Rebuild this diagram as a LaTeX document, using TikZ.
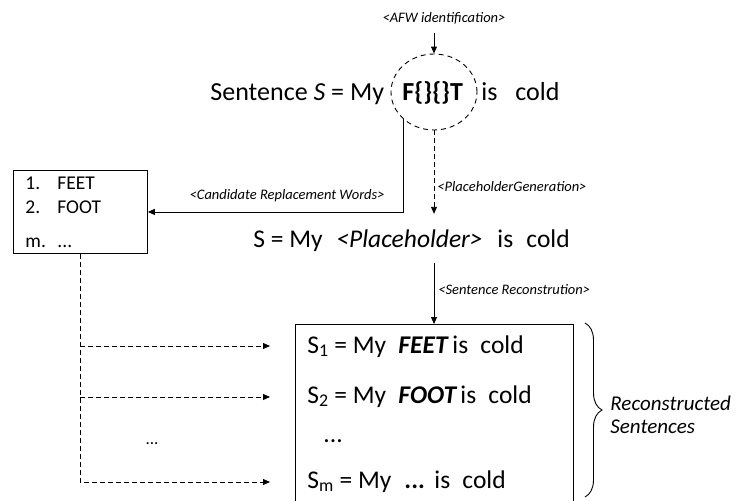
\documentclass[tikz,border=0pt]{standalone}
\usepackage{fontspec}
\setmainfont{Carlito}
\usetikzlibrary{arrows.meta,shapes.geometric,decorations.pathreplacing}
\begin{document}
\begin{tikzpicture}[x=1pt,y=-1pt, line width=0.9pt,
  txt/.style={inner sep=0pt, anchor=base west},
  bigf/.style={font=\fontsize{26}{30}\selectfont},
  phf/.style={font=\fontsize{25.5}{29}\selectfont},
  midf/.style={font=\fontsize{25.5}{29}\selectfont},
  lstf/.style={font=\fontsize{19.5}{23}\selectfont},
  lbl/.style={font=\fontsize{14.5}{17}\selectfont\itshape, inner sep=0pt},
  arr/.style={-{Triangle[length=7pt,width=6pt]}},
  dashline/.style={dash pattern=on 5pt off 3pt}
]
\useasboundingbox (0,0) rectangle (740,501);
\clip (0,0) rectangle (740,501);

% top label and circle
\node[lbl] (afwl) at (444,18) {<AFW identification>};
\coordinate (t0) at (434,33);
\node[ellipse, draw, dash pattern=on 5pt off 4pt, minimum width=86pt, minimum height=76pt, inner sep=0pt] (afw) at (434,92) {};
\draw[arr] (t0) -- (afw.north);

% main sentence
\node[txt,bigf] (s0) at (210,100) {Sentence \textit{S} = My};
\node[txt,bigf] (fw) at (402,100) {\textbf{F\{\}\{\}T}};
\node[txt,bigf] (is0) at (481,100) {is};
\node[txt,bigf] (cold0) at (515,100) {cold};

% candidate list
\node[draw, anchor=north west, minimum width=134pt, minimum height=83pt, inner sep=0pt] (list) at (13,170) {};
\node[txt,lstf] (n1) at (25,189) {1.};
\node[txt,lstf] (w1) at (57,189) {FEET};
\node[txt,lstf] (n2) at (25,213) {2.};
\node[txt,lstf] (w2) at (57,213) {FOOT};
\node[txt,lstf] (nm) at (25,247) {m.};
\node[txt,lstf] (wm) at (57,247) {...};

\draw[arr] (afw.222) |- (list.east);
\node[lbl, anchor=east] (cand) at (385,196) {<Candidate Replacement Words>};

% placeholder sentence
\node[txt,phf] (ph1) at (253,247) {S = My};
\node[txt,phf,inner ysep=15pt] (plh) at (336,247) {\textit{<Placeholder>}};
\node[txt,phf] (ph3) at (497,247) {is};
\node[txt,phf] (ph4) at (526,247) {cold};
\draw[arr,dashline] (afw.south) -- (afw.south |- plh.north);
\node[lbl, anchor=west] (phg) at (437,187) {<PlaceholderGeneration>};

% reconstruction box
\node[draw, anchor=north west, minimum width=278pt, minimum height=200pt, inner sep=0pt] (rbox) at (295,324) {};
\draw[arr] (afw.south |- plh.south) -- (afw.south |- rbox.north);
\node[lbl, anchor=west] (sr) at (438,290) {<Sentence Reconstrution>};

\node[txt,midf] (r1a) at (307,353) {S\textsubscript{1} = My};
\node[txt,midf] (r1b) at (398,353) {\textbf{\textit{FEET}}};
\node[txt,midf] (r1c) at (452,353) {is};
\node[txt,midf] (r1d) at (480,353) {cold};
\node[txt,midf] (r2a) at (307,403) {S\textsubscript{2} = My};
\node[txt,midf] (r2b) at (398,403) {\textbf{\textit{FOOT}}};
\node[txt,midf] (r2c) at (460,403) {is};
\node[txt,midf] (r2d) at (488,403) {cold};
\node[txt,midf] (rd) at (323,442) {...};
\node[txt,midf] (rma) at (307,488) {S\textsubscript{m} = My};
\node[txt,midf] (rmb) at (404,488) {\textbf{...}};
\node[txt,midf] (rmc) at (434,488) {is};
\node[txt,midf] (rmd) at (462,488) {cold};

% dashed distribution arrows
\coordinate (a1) at (270,346);
\coordinate (a2) at (270,397);
\coordinate (a3) at (270,482);
\draw[arr,dashline] (list.south) |- (a3);
\draw[arr,dashline] (list.south |- a1) -- (a1);
\draw[arr,dashline] (list.south |- a2) -- (a2);
\node[inner sep=0pt, anchor=base, font=\fontsize{17}{20}\selectfont] (ld) at (152,444) {...};

% brace
\draw[decorate, decoration={brace, amplitude=17pt}] (585,323) -- (585,497);
\node[inner sep=0pt, anchor=west, align=left, font=\fontsize{21}{23}\selectfont\itshape] (rec) at (610,415) {Reconstructed\\Sentences};
\end{tikzpicture}
\end{document}
